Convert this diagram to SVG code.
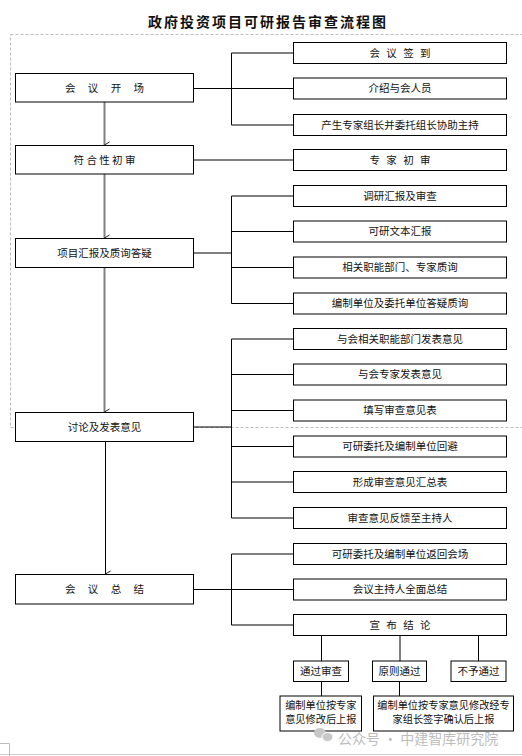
<svg xmlns="http://www.w3.org/2000/svg" width="522" height="756" viewBox="0 0 522 756">
<defs>
<style>
.box{fill:#fff;stroke:#000;stroke-width:1}
.t{font-family:"Noto Sans CJK SC","Liberation Sans",sans-serif;font-size:10.5px;fill:#111;text-anchor:middle}
.t2{font-family:"Noto Sans CJK SC","Liberation Sans",sans-serif;font-size:10.2px;fill:#111;text-anchor:middle}
.ln{stroke:#000;stroke-width:1;fill:none}
.ga{stroke:#808080;stroke-width:2;fill:none}
.title{font-family:"Noto Sans CJK SC",sans-serif;font-size:14px;font-weight:bold;fill:#111;text-anchor:middle;letter-spacing:2px}
.wm{font-family:"Noto Sans CJK SC",sans-serif;font-size:14px;fill:#bdbdbd}
</style>
<marker id="ah" markerWidth="8" markerHeight="8" refX="4" refY="6" orient="auto" markerUnits="userSpaceOnUse" viewBox="0 0 8 8">
<path d="M1,1 L4,6 L7,1" fill="none" stroke="#222" stroke-width="1"/>
</marker>
</defs>
<rect width="522" height="756" fill="#fff"/>
<text class="title" x="268" y="27">政府投资项目可研报告审查流程图</text>
<rect x="10.5" y="34.5" width="520" height="393" fill="none" stroke="#bbb" stroke-width="1" stroke-dasharray="3,2"/>
<line x1="0" y1="754.5" x2="522" y2="754.5" stroke="#ccc" stroke-width="1"/>
<path d="M0,743.5 H9.5 V756" fill="none" stroke="#bbb" stroke-width="1"/>

<g id="connectors">
<path class="ln" d="M193.5,88.5 H231.5 M231.5,53 V125 M231.5,53 H293.5 M231.5,88.5 H293.5 M231.5,125 H293.5"/>
<path class="ln" d="M193.5,160 H293.5"/>
<path class="ln" d="M193.5,253 H231.5 M231.5,196 V303.5 M231.5,196 H293.5 M231.5,231.5 H293.5 M231.5,267.5 H293.5 M231.5,303.5 H293.5"/>
<path class="ln" d="M193.5,427 H231.5 M231.5,339 V518 M231.5,339 H293.5 M231.5,374.5 H293.5 M231.5,410.5 H293.5 M231.5,446.5 H293.5 M231.5,482 H293.5 M231.5,518 H293.5"/>
<path class="ln" d="M193.5,589.5 H231.5 M231.5,554 V625 M231.5,554 H293.5 M231.5,589.5 H293.5 M231.5,625 H293.5"/>
<path class="ln" d="M321.5,635.5 V661 M400,635.5 V661 M478.5,635.5 V661 M321.5,681.5 V696 M399.5,681.5 V696"/>
<line class="ga" x1="104.5" y1="102" x2="104.5" y2="145" marker-end="url(#ah)"/>
<line class="ga" x1="104.5" y1="174" x2="104.5" y2="238" marker-end="url(#ah)"/>
<line class="ga" x1="104.5" y1="267.5" x2="104.5" y2="412" marker-end="url(#ah)"/>
<line class="ln" x1="105.5" y1="441.5" x2="105.5" y2="574" marker-end="url(#ah)"/>
</g>

<g id="L1"><rect class="box" x="15.5" y="73.5" width="178" height="28.5"/><text class="t" x="104.5" y="91.5" word-spacing="10">会 议 开 场</text></g>
<g id="L2"><rect class="box" x="15.5" y="145.5" width="178" height="28.5"/><text class="t" x="104.5" y="163.5">符 合 性 初 审</text></g>
<g id="L3"><rect class="box" x="15.5" y="238.5" width="178" height="29"/><text class="t" x="104.5" y="256.5">项目汇报及质询答疑</text></g>
<g id="L4"><rect class="box" x="15.5" y="412.5" width="178" height="29"/><text class="t" x="104.5" y="430.5">讨论及发表意见</text></g>
<g id="L5"><rect class="box" x="15.5" y="574.5" width="178" height="29.5"/><text class="t" x="104.5" y="592.8" word-spacing="10">会 议 总 结</text></g>

<g id="R1"><rect class="box" x="293.5" y="42.5" width="213" height="21"/><text class="t" x="400" y="56.6" word-spacing="4">会 议 签 到</text></g>
<g id="R2"><rect class="box" x="293.5" y="78" width="213" height="21"/><text class="t" x="400" y="92.1">介绍与会人员</text></g>
<g id="R3"><rect class="box" x="293.5" y="114.5" width="213" height="21"/><text class="t" x="400" y="128.6">产生专家组长并委托组长协助主持</text></g>
<g id="R4"><rect class="box" x="293.5" y="149.5" width="213" height="21"/><text class="t" x="400" y="163.6" word-spacing="4">专 家 初 审</text></g>
<g id="R5"><rect class="box" x="293.5" y="185.5" width="213" height="21"/><text class="t" x="400" y="199.6">调研汇报及审查</text></g>
<g id="R6"><rect class="box" x="293.5" y="221" width="213" height="21"/><text class="t" x="400" y="235.1">可研文本汇报</text></g>
<g id="R7"><rect class="box" x="293.5" y="257" width="213" height="21"/><text class="t" x="400" y="271.1">相关职能部门、专家质询</text></g>
<g id="R8"><rect class="box" x="293.5" y="293" width="213" height="21"/><text class="t" x="400" y="307.1">编制单位及委托单位答疑质询</text></g>
<g id="R9"><rect class="box" x="293.5" y="328.5" width="213" height="21"/><text class="t" x="400" y="342.6">与会相关职能部门发表意见</text></g>
<g id="R10"><rect class="box" x="293.5" y="364" width="213" height="21"/><text class="t" x="400" y="378.1">与会专家发表意见</text></g>
<g id="R11"><rect class="box" x="293.5" y="400" width="213" height="21"/><text class="t" x="400" y="414.1">填写审查意见表</text></g>
<g id="R12"><rect class="box" x="293.5" y="436" width="213" height="21"/><text class="t" x="400" y="450.1">可研委托及编制单位回避</text></g>
<g id="R13"><rect class="box" x="293.5" y="471.5" width="213" height="21"/><text class="t" x="400" y="485.6">形成审查意见汇总表</text></g>
<g id="R14"><rect class="box" x="293.5" y="507.5" width="213" height="21"/><text class="t" x="400" y="521.6">审查意见反馈至主持人</text></g>
<g id="R15"><rect class="box" x="293.5" y="543.5" width="213" height="21"/><text class="t" x="400" y="557.6">可研委托及编制单位返回会场</text></g>
<g id="R16"><rect class="box" x="293.5" y="579" width="213" height="21"/><text class="t" x="400" y="593.1">会议主持人全面总结</text></g>
<g id="R17"><rect class="box" x="293.5" y="614.5" width="213" height="21"/><text class="t" x="400" y="628.6" word-spacing="4">宣 布 结 论</text></g>

<g id="D1"><rect class="box" x="293.5" y="661" width="55" height="20.5"/><text class="t" x="321" y="675">通过审查</text></g>
<g id="D2"><rect class="box" x="372.5" y="661" width="54" height="20.5"/><text class="t" x="399.5" y="675">原则通过</text></g>
<g id="D3"><rect class="box" x="451" y="661" width="55" height="20.5"/><text class="t" x="478.5" y="675">不予通过</text></g>
<g id="E1"><rect class="box" x="280" y="696" width="81.5" height="35"/><text class="t2" x="320.8" y="708.6">编制单位按专家</text><text class="t2" x="320.8" y="723.4">意见修改后上报</text></g>
<g id="E2"><rect class="box" x="373.5" y="696" width="140" height="35"/><text class="t2" x="443.5" y="708.6">编制单位按专家意见修改经专</text><text class="t2" x="443.5" y="723.4">家组长签字确认后上报</text></g>

<g id="watermark">
<ellipse cx="320" cy="733" rx="6" ry="5" fill="#c8c8c8"/>
<ellipse cx="327.5" cy="737" rx="5.5" ry="4.5" fill="#c8c8c8" stroke="#fff" stroke-width="1"/>
<text class="wm" x="338" y="743.8">公众号 · 中建智库研究院</text>
</g>
</svg>
